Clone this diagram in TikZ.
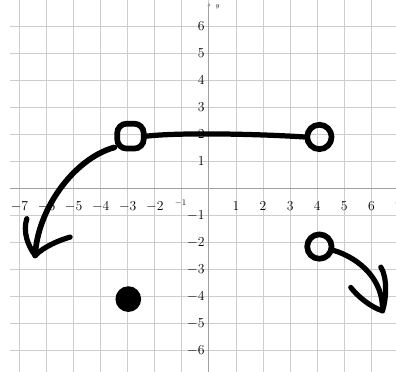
\documentclass[tikz,border=0pt]{standalone}
\usepackage{tikz}
\usetikzlibrary{arrows.meta,calc}
\definecolor{gridgray}{RGB}{205,205,205}
\definecolor{axisgray}{RGB}{160,160,160}

\begin{document}
\begin{tikzpicture}[
  font=\fontsize{14.5}{16}\selectfont,
  gridline/.style={draw=gridgray, line width=1pt},
  axisline/.style={draw=axisgray, line width=1pt},
  ink/.style={line width=5.5pt, line cap=round, line join=round},
  opendot/.style={circle, draw, line width=6pt, minimum size=0.9cm, inner sep=0pt},
  openbox/.style={rectangle, rounded corners=3.5mm, draw, line width=6pt, minimum width=0.98cm, minimum height=0.92cm, inner sep=0pt},
  filldot/.style={circle, fill, minimum size=0.95cm, inner sep=0pt},
  ticklab/.style={inner sep=1pt}
]
\useasboundingbox (-7.72,-6.78) rectangle (6.91,6.96);
% grid
\foreach \x in {-7,...,6}
  \draw[gridline] (\x,-6.8) -- (\x,7);
\foreach \y in {-6,...,6}
  \draw[gridline] (-7.35,\y) -- (7,\y);
% axes
\draw[axisline] (-7.35,0) -- (7,0);
\draw[axisline, -{Latex[length=1.4mm,width=1.2mm]}] (0,-6.8) -- (0,6.88);
\node[font=\scriptsize, inner sep=0pt] (ylab) at (0.32,6.7) {$y$};
% tick labels
\foreach \x in {-7,...,-2,1,2,...,7}
  \node[ticklab] (xl\x) at (\x,-0.67) {$\x$};
\node[ticklab, font=\small] (xl-1) at (-1.05,-0.55) {$-1$};
\foreach \y in {-6,...,-1,1,2,...,6}
  \node[ticklab, anchor=east] (yl\y) at (-0.12,\y) {$\y$};
% points
\node[openbox] (pa) at (-2.9,1.93) {};
\node[opendot] (pb) at (4.08,1.9) {};
\node[opendot] (pc) at (4.08,-2.15) {};
\node[filldot] (pd) at (-2.98,-4.09) {};
% arrow ends
\coordinate (tipl) at (-6.42,-2.48);
\coordinate (bl1) at (-6.73,-1.12);
\coordinate (bl2) at (-5.13,-1.80);
\coordinate (tipr) at (6.41,-4.52);
\coordinate (br1) at (6.35,-2.91);
\coordinate (br2) at (5.24,-3.66);
% strokes
\draw[ink] (pa.east) .. controls (-1,2.08) and (2,2.0) .. (pb.west);
\draw[ink, line width=6pt] (pa.215) .. controls (-5,1.1) and (-6.35,-0.8) .. (tipl);
\draw[ink] (bl1) .. controls (-6.88,-1.6) and (-6.7,-2.1) .. (tipl);
\draw[ink] (bl2) .. controls (-5.5,-1.9) and (-6.1,-2.15) .. (tipl);
\draw[ink] (pc.-15) .. controls (5.6,-2.6) and (6.45,-3.4) .. (tipr);
\draw[ink] (br1) .. controls (6.6,-3.3) and (6.55,-4.1) .. (tipr);
\draw[ink] (br2) .. controls (5.5,-4.0) and (6.0,-4.4) .. (tipr);
\end{tikzpicture}
\end{document}
